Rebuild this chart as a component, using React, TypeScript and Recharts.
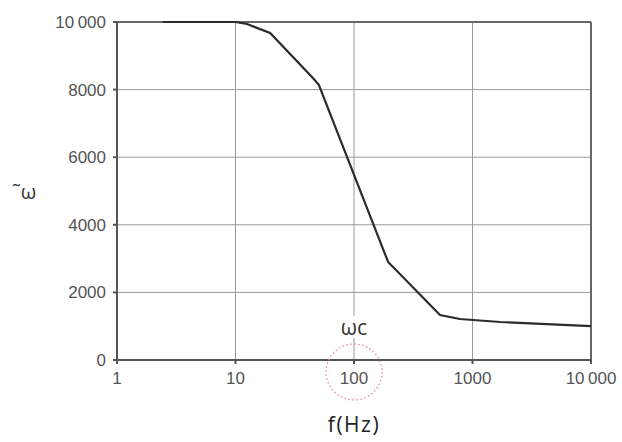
import {CartesianGrid, LineChart, XAxis, YAxis, Line, ReferenceDot, ReferenceLine} from 'recharts';

// frequency (Hz) and omega values
const freqs = [2.44, 10, 12.5, 19.6, 45, 50.5, 194, 532, 784, 1707, 10000];
const omegas = [10000, 10000, 9940, 9675, 8340, 8140, 2900, 1330, 1213, 1125, 1000];

const xTicks = [1, 10, 100, 1000, 10000];
const yTicks = [0, 2000, 4000, 6000, 8000, 10000];

const datas = freqs.map((f, i) => ({f, w: omegas[i]}));

const fmt = (v: number) => (v === 10000 ? '10\u2009000' : String(v));

const tickStyle = {fontSize: 17, fill: '#555', fontFamily: 'Liberation Sans, Arial, sans-serif'};

function WcLabel(props: any) {
    const {cx, cy} = props;
    return (
        <g>
            <rect x={cx - 20} y={cy - 12} width={40} height={22} fill="#fff"/>
            <text x={cx} y={cy + 7} textAnchor="middle" fontSize={21} fill="#333"
                  fontFamily="Open Sans, DejaVu Sans, sans-serif">ωc</text>
        </g>
    );
}

function WcCircle(props: any) {
    const {cx, cy} = props;
    return <circle cx={cx} cy={cy} r={28} fill="none" stroke="#e58a94" strokeWidth={1.3} strokeDasharray="1.5 2.5"/>;
}

function YLabel(props: any) {
    const {viewBox} = props;
    const x = viewBox.x + 12;
    const y = viewBox.y + viewBox.height / 2 + 8;
    return (
        <text x={x} y={y} fontSize={20} fill="#333" fontFamily="Open Sans, DejaVu Sans, sans-serif">˜ω</text>
    );
}

function App() {
    return (
        <div style={{position: 'absolute', left: 0, top: 0, background: '#fff'}}>
            <LineChart width={622} height={442} data={datas} margin={{top: 22, right: 31, left: 0, bottom: 0}}>
                <CartesianGrid stroke="#9a9a9a" strokeWidth={1}/>
                <XAxis dataKey="f" type="number" scale="log" domain={[1, 10000]} ticks={xTicks}
                       allowDataOverflow tickFormatter={fmt} height={82} tickSize={4} tickMargin={8}
                       tick={tickStyle} stroke="#555" strokeWidth={2}
                       label={{value: 'f(Hz)', position: 'insideBottom', offset: 10, fontSize: 21, fill: '#222',
                           fontFamily: 'Open Sans, DejaVu Sans, sans-serif', letterSpacing: 1.5}}/>
                <YAxis type="number" domain={[0, 10000]} ticks={yTicks} tickFormatter={fmt} width={117}
                       tickSize={4} tickMargin={7} tick={tickStyle} stroke="#555" strokeWidth={2}
                       label={<YLabel/>}/>
                <ReferenceLine y={10000} stroke="#666" strokeWidth={2}/>
                <ReferenceLine x={10000} stroke="#666" strokeWidth={2}/>
                <Line type="linear" dataKey="w" stroke="#2b2b2b" strokeWidth={2.2} dot={false} isAnimationActive={false}/>
                <ReferenceDot x={100} y={950} shape={<WcLabel/>} ifOverflow="visible"/>
                <ReferenceDot x={100} y={-355} shape={<WcCircle/>} ifOverflow="visible"/>
            </LineChart>
        </div>
    );
}

export default App;
